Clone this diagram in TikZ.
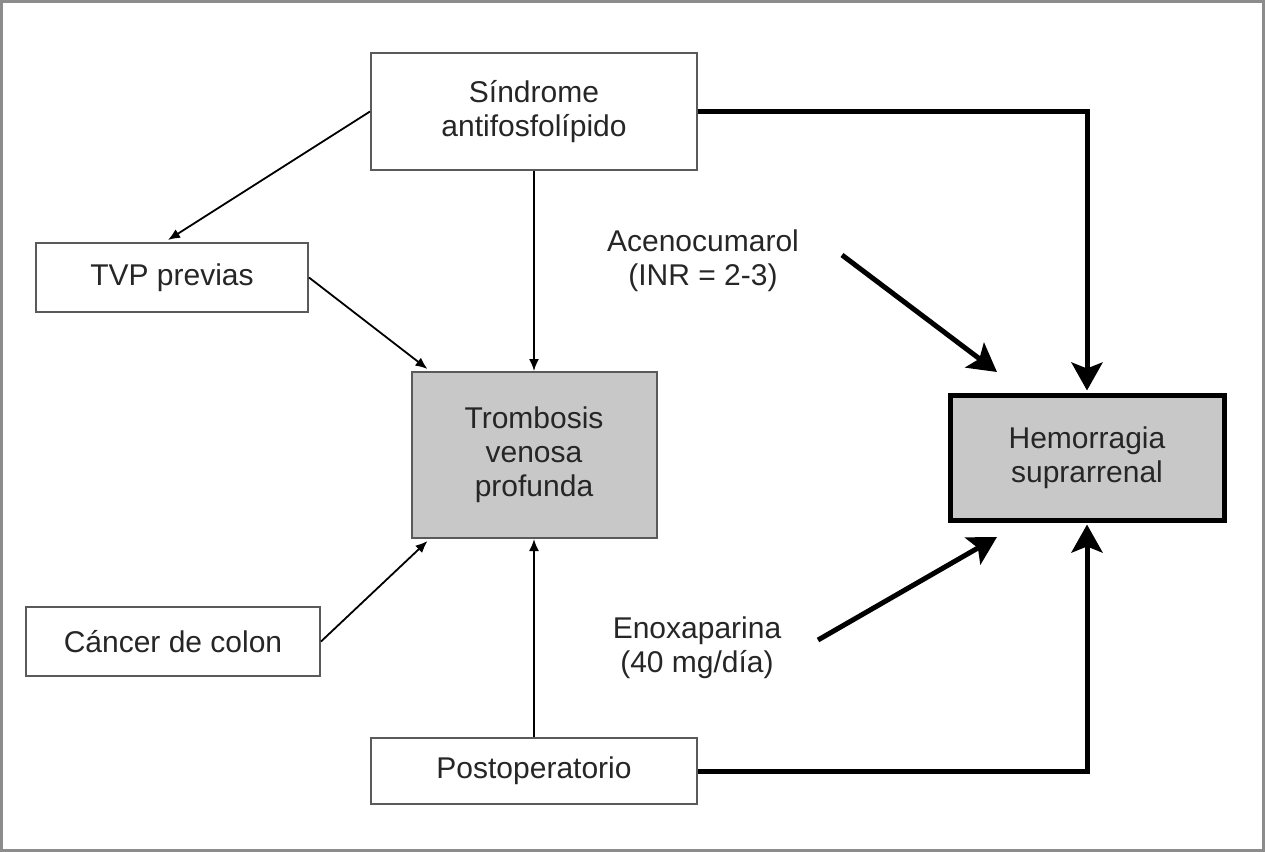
\documentclass[tikz,border=0pt]{standalone}
\usepackage{fontspec}
\setmainfont{Liberation Sans}
\usepackage{tikz}
\usetikzlibrary{arrows.meta,calc}
\definecolor{boxline}{HTML}{5A5A5A}
\definecolor{boxfill}{HTML}{C8C8C8}
\definecolor{frameline}{HTML}{8C8C8C}

\begin{document}
\begin{tikzpicture}[x=0.5pt, y=-0.5pt,
    every node/.style={font=\fontsize{15}{17}\selectfont, align=center, inner sep=0pt, text=black!85},
    box/.style={draw=boxline, line width=1pt, fill=white},
    graybox/.style={box, fill=boxfill},
    thinarrow/.style={line width=0.9pt, -{Latex[length=6pt,width=5pt]}},
    thickarrow/.style={line width=2.5pt, -{Stealth[length=14pt,width=15.5pt,inset=3pt]}}]
    \useasboundingbox (0,0) rectangle (1265,852);
    \draw[frameline, line width=1.2pt] (1.5,1.5) rectangle (1263.5,850.5);
    % boxes
    \node[box, minimum width=163pt, minimum height=58.5pt] (sap) at (534,111.5) {S\'{\i}ndrome\\antifosfol\'{\i}pido};
    \node[box, minimum width=136pt, minimum height=34.5pt] (tvp) at (172,277.5) {TVP previas};
    \node[graybox, minimum width=122.5pt, minimum height=83pt] (tvpro) at (534,455) {Trombosis\\venosa\\profunda};
    \node[graybox, draw=black, line width=2.5pt, minimum width=137pt, minimum height=62.5pt] (hem) at (1087,457.5) {Hemorragia\\suprarrenal};
    \node[box, minimum width=147pt, minimum height=34.5pt] (can) at (173,641.5) {C\'ancer de colon};
    \node[box, minimum width=163pt, minimum height=33pt] (post) at (534,771) {Postoperatorio};
    % labels
    \node (aceno) at (703,261) {Acenocumarol\\(INR = 2-3)};
    \node (enox) at (697,648) {Enoxaparina\\(40 mg/d\'{\i}a)};
    % free ends of the drug arrows
    \coordinate (acenoA) at (842,255);
    \coordinate (acenoB) at (997,372);
    \coordinate (enoxA) at (818,640);
    \coordinate (enoxB) at (997,537);
    % thin connectors
    \draw[thinarrow] (sap.west) -- ($(tvp.north)+(-4,-2)$);
    \draw[thinarrow] (tvp.east) -- ($(tvpro.north west)+(17,-2)$);
    \draw[thinarrow] (can.east) -- ($(tvpro.south west)+(17,2)$);
    \draw[thinarrow] (sap.south) -- (tvpro.north);
    \draw[thinarrow] (post.north) -- (tvpro.south);
    % thick connectors
    \draw[thickarrow] (sap.east) -| ($(hem.north)+(0,-2)$);
    \draw[thickarrow] (post.east) -| ($(hem.south)+(0,2)$);
    \draw[thickarrow] (acenoA) -- (acenoB);
    \draw[thickarrow] (enoxA) -- (enoxB);
\end{tikzpicture}
\end{document}
